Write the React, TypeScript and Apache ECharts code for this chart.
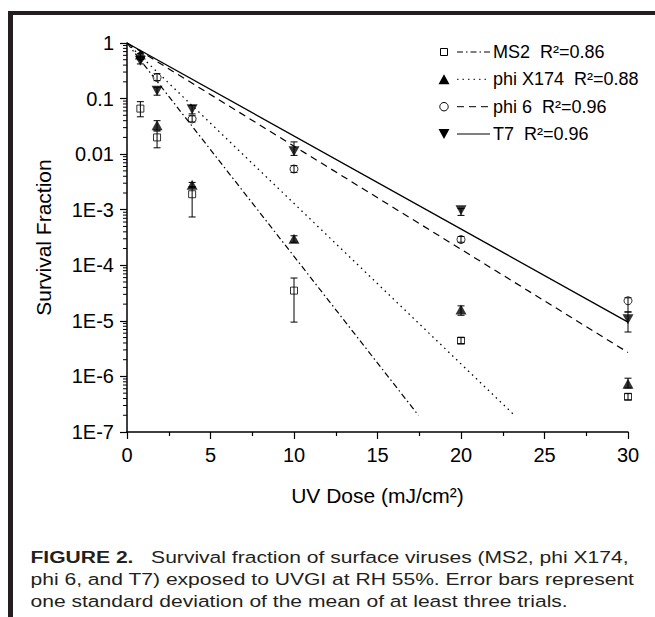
import React, { useEffect, useRef } from "react";
import * as echarts from "echarts";

// ---- data ----
const X_MIN = 0;
const X_MAX = 30;
const X_INTERVAL = 5;
const Y_TICK_LABELS = ["1E-7", "1E-6", "1E-5", "1E-4", "1E-3", "0.01", "0.1", "1"];
const Y_DECADES = [-7, -6, -5, -4, -3, -2, -1];
const Y_MINOR_MULTIPLIERS = [2, 3, 4, 5, 6, 7, 8, 9];

const SERIES_NAMES = ["MS2", "phi X174", "phi 6", "T7"];
const R2_LABELS = ["0.86", "0.88", "0.96", "0.96"];

const MS2 = [[0.8, 0.066], [1.8, 0.02], [3.9, 0.0019], [10, 3.5e-5], [20, 4.4e-6], [30, 4.3e-7]];
const PHIX174 = [[0.8, 0.62], [1.8, 0.033], [3.9, 0.0028], [10, 3.0e-4], [20, 1.6e-5], [30, 7.4e-7]];
const PHI6 = [[0.8, 0.57], [1.8, 0.24], [3.9, 0.043], [10, 0.0054], [20, 2.9e-4], [30, 2.3e-5]];
const T7 = [[0.8, 0.48], [1.8, 0.138], [3.9, 0.064], [10, 0.0113], [20, 9.8e-4], [30, 1.07e-5]];

// [x, low, high]
const ERR_MS2 = [[0.8, 0.047, 0.088], [1.8, 0.013, 0.026], [3.9, 7.4e-4, 0.0026], [10, 9.5e-6, 5.9e-5], [20, 3.9e-6, 5.0e-6], [30, 3.8e-7, 4.9e-7]];
const ERR_PHIX174 = [[1.8, 0.027, 0.04], [3.9, 0.0025, 0.0031], [10, 2.6e-4, 3.4e-4], [20, 1.26e-5, 1.86e-5], [30, 6.2e-7, 9.3e-7]];
const ERR_PHI6 = [[0.8, 0.5, 0.65], [1.8, 0.21, 0.28], [3.9, 0.038, 0.049], [10, 0.0047, 0.0062], [20, 2.6e-4, 3.3e-4], [30, 1.45e-5, 2.6e-5]];
const ERR_T7 = [[0.8, 0.42, 0.56], [1.8, 0.115, 0.16], [3.9, 0.053, 0.075], [10, 0.0095, 0.0166], [20, 7.9e-4, 1.05e-3], [30, 6.3e-6, 1.44e-5]];

// fitted regression lines (end points)
const FIT_MS2 = [[0, 1], [17.45, 2e-7]];
const FIT_PHIX174 = [[0, 1], [23.2, 2e-7]];
const FIT_PHI6 = [[0, 1], [30, 2.7e-6]];
const FIT_T7 = [[0, 1], [30, 9.5e-6]];

const CAPTION_LINES = [
  "{b|FIGURE 2.}   Survival fraction of surface viruses (MS2, phi X174,",
  "phi 6, and T7) exposed to UVGI at RH 55%. Error bars represent",
  "one standard deviation of the mean of at least three trials.",
];

const FONT = "'Liberation Sans', Arial, Helvetica, sans-serif";
const INK = "#000";

const MINOR_TICKS: number[][] = [];
Y_DECADES.forEach((d) => {
  Y_MINOR_MULTIPLIERS.forEach((m) => {
    MINOR_TICKS.push([X_MIN, m * Math.pow(10, d)]);
  });
});

const errorBarRender = (params: any, api: any) => {
  const x = api.value(0);
  const lo = api.value(1);
  const hi = api.value(2);
  const a = api.coord([x, lo]);
  const b = api.coord([x, hi]);
  const w = 3.5;
  const st = { stroke: INK, lineWidth: 1 };
  return {
    type: "group",
    children: [
      { type: "line", shape: { x1: a[0], y1: a[1], x2: b[0], y2: b[1] }, style: st },
      { type: "line", shape: { x1: a[0] - w, y1: a[1], x2: a[0] + w, y2: a[1] }, style: st },
      { type: "line", shape: { x1: b[0] - w, y1: b[1], x2: b[0] + w, y2: b[1] }, style: st },
    ],
  };
};

const minorTickRender = (params: any, api: any) => {
  const p = api.coord([api.value(0), api.value(1)]);
  return {
    type: "line",
    shape: { x1: p[0] - 4, y1: p[1], x2: p[0], y2: p[1] },
    style: { stroke: INK, lineWidth: 1 },
  };
};

const DASH_MS2 = [6, 3, 1.5, 3];
const DASH_PHIX174 = [1.5, 4];
const DASH_PHI6 = [7, 5];

export default function App() {
  const ref = useRef<HTMLDivElement>(null);

  useEffect(() => {
    if (!ref.current) return;
    const chart = echarts.init(ref.current, undefined, { renderer: "svg" });

    const legendRowsY = [52, 79.3, 106.7, 134];
    const symX = 444;
    const lineX1 = 457;
    const lineX2 = 490;
    const textX = 493;
    const dashes = [DASH_MS2, DASH_PHIX174, DASH_PHI6, null];

    const legendGraphics: any[] = [];
    legendRowsY.forEach((y, i) => {
      if (i === 0) {
        legendGraphics.push({ type: "rect", shape: { x: symX - 3.5, y: y - 3.5, width: 7, height: 7 }, style: { fill: "#fff", stroke: INK, lineWidth: 1 } });
      } else if (i === 1) {
        legendGraphics.push({ type: "polygon", shape: { points: [[symX, y - 5], [symX + 5.5, y + 5], [symX - 5.5, y + 5]] }, style: { fill: INK } });
      } else if (i === 2) {
        legendGraphics.push({ type: "circle", shape: { cx: symX, cy: y, r: 4.2 }, style: { fill: "#fff", stroke: INK, lineWidth: 1 } });
      } else {
        legendGraphics.push({ type: "polygon", shape: { points: [[symX - 5.5, y - 5], [symX + 5.5, y - 5], [symX, y + 5]] }, style: { fill: INK } });
      }
      legendGraphics.push({
        type: "line",
        shape: { x1: lineX1, y1: y, x2: lineX2, y2: y },
        style: { stroke: INK, lineWidth: 1, lineDash: dashes[i] || null },
      });
      legendGraphics.push({
        type: "text",
        x: textX,
        y: y,
        style: {
          text: SERIES_NAMES[i] + "  R\u00B2=" + R2_LABELS[i],
          fontSize: 18,
          fontFamily: FONT,
          fill: INK,
          align: "left",
          verticalAlign: "middle",
        },
      });
    });

    const captionY = [557, 579, 601];
    const captionGraphics = CAPTION_LINES.map((t, i) => ({
      type: "text",
      x: 30.5,
      y: captionY[i],
      scaleX: 1.24,
      style: {
        text: t,
        fontSize: 17,
        fontFamily: FONT,
        fill: "#231f20",
        align: "left",
        verticalAlign: "middle",
        rich: {
          b: { fontSize: 17, fontFamily: FONT, fontWeight: "bold", fill: "#231f20" },
        },
      },
    }));

    const option: any = {
      animation: false,
      backgroundColor: "#fff",
      grid: { left: 127, right: 27, top: 43, bottom: 185, containLabel: false },
      xAxis: {
        type: "value",
        min: X_MIN,
        max: X_MAX,
        interval: X_INTERVAL,
        name: "UV Dose (mJ/cm\u00B2)",
        nameLocation: "middle",
        nameGap: 53,
        nameTextStyle: { fontSize: 21, fontFamily: FONT, color: INK },
        axisLine: { lineStyle: { color: INK, width: 1.5 } },
        axisTick: { show: true, length: 7, lineStyle: { color: INK, width: 1.2 } },
        minorTick: { show: true, splitNumber: 2, length: 4, lineStyle: { color: INK, width: 1.2 } },
        splitLine: { show: false },
        axisLabel: { fontSize: 20, fontFamily: FONT, color: INK, margin: 13 },
      },
      yAxis: {
        type: "log",
        logBase: 10,
        min: 1e-7,
        max: 1,
        name: "Survival Fraction",
        nameLocation: "middle",
        nameGap: 73,
        nameTextStyle: { fontSize: 21, fontFamily: FONT, color: INK },
        axisLine: { show: true, lineStyle: { color: INK, width: 1.5 } },
        axisTick: { show: true, length: 7, lineStyle: { color: INK, width: 1.2 } },
        splitLine: { show: false },
        axisLabel: {
          fontSize: 20,
          fontFamily: FONT,
          color: INK,
          margin: 13,
          formatter: (v: number) => Y_TICK_LABELS[Math.round(Math.log10(v)) + 7] || "",
        },
      },
      series: [
        { type: "line", data: FIT_MS2, symbol: "none", lineStyle: { color: INK, width: 1.2, type: DASH_MS2 }, z: 2, silent: true },
        { type: "line", data: FIT_PHIX174, symbol: "none", lineStyle: { color: INK, width: 1.3, type: DASH_PHIX174 }, z: 2, silent: true },
        { type: "line", data: FIT_PHI6, symbol: "none", lineStyle: { color: INK, width: 1.2, type: DASH_PHI6 }, z: 2, silent: true },
        { type: "line", data: FIT_T7, symbol: "none", lineStyle: { color: INK, width: 1.3, type: "solid" }, z: 2, silent: true },
        { name: "MS2", type: "scatter", data: MS2, symbol: "rect", symbolSize: 7, itemStyle: { color: "#fff", borderColor: INK, borderWidth: 1 }, z: 3 },
        { name: "phi 6", type: "scatter", data: PHI6, symbol: "circle", symbolSize: 8, itemStyle: { color: "#fff", borderColor: INK, borderWidth: 1 }, z: 3 },
        { name: "phi X174", type: "scatter", data: PHIX174, symbol: "triangle", symbolSize: [11, 10], itemStyle: { color: INK }, z: 3 },
        { name: "T7", type: "scatter", data: T7, symbol: "triangle", symbolRotate: 180, symbolSize: [11, 10], itemStyle: { color: INK }, z: 3 },
        { type: "custom", data: ERR_MS2, renderItem: errorBarRender, encode: { x: 0, y: [1, 2] }, z: 4, silent: true },
        { type: "custom", data: ERR_PHIX174, renderItem: errorBarRender, encode: { x: 0, y: [1, 2] }, z: 4, silent: true },
        { type: "custom", data: ERR_PHI6, renderItem: errorBarRender, encode: { x: 0, y: [1, 2] }, z: 4, silent: true },
        { type: "custom", data: ERR_T7, renderItem: errorBarRender, encode: { x: 0, y: [1, 2] }, z: 4, silent: true },
        { type: "custom", data: MINOR_TICKS, renderItem: minorTickRender, encode: { x: 0, y: 1 }, clip: false, z: 5, silent: true },
      ],
      graphic: [
        { type: "rect", shape: { x: 8, y: 11, width: 647, height: 4 }, style: { fill: "#231f20" } },
        { type: "rect", shape: { x: 8, y: 11, width: 5, height: 606 }, style: { fill: "#231f20" } },
        ...legendGraphics,
        ...captionGraphics,
      ],
    };

    chart.setOption(option);
    return () => chart.dispose();
  }, []);

  return (
    <div
      ref={ref}
      style={{ position: "fixed", left: 0, top: 0, width: 655, height: 617, background: "#fff" }}
    />
  );
}
